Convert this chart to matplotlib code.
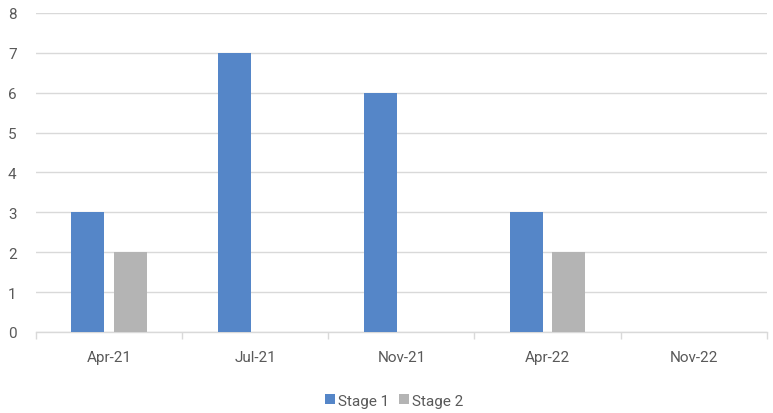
import matplotlib.pyplot as plt
import numpy as np

plt.rcParams['font.family'] = ['Roboto', 'DejaVu Sans']

# values per review date
dates = ['Apr-21', 'Jul-21', 'Nov-21', 'Apr-22', 'Nov-22']
stage1 = [3, 7, 6, 3, 0]
stage2 = [2, 0, 0, 2, 0]

blue = '#5586C8'
grey = '#B4B4B4'
txt = '#595959'
grid = '#D9D9D9'

fig = plt.figure(figsize=(7.73, 4.14), dpi=100)
ax = fig.add_axes([0.0466, 0.1957, 0.9454, 0.7705])

x = np.arange(len(dates))
w = 0.225
b1 = ax.bar(x - 0.145, stage1, w, color=blue, label='Stage 1', zorder=3)
b2 = ax.bar(x + 0.145, stage2, w, color=grey, label='Stage 2', zorder=3)

ax.set_xlim(-0.5, len(dates) - 0.5)
ax.set_ylim(0, 8)
ax.set_yticks(range(0, 9))
ax.yaxis.grid(True, color=grid, linewidth=1)
ax.set_axisbelow(True)

# category labels in the middle, tick marks on the boundaries
ax.set_xticks(x)
ax.set_xticklabels(dates)
ax.set_xticks(np.arange(-0.5, len(dates)), minor=True)
ax.tick_params(axis='x', which='major', length=0, pad=13, labelsize=11, labelcolor=txt)
ax.tick_params(axis='x', which='minor', length=5, color=grid, width=1)
ax.tick_params(axis='y', length=0, pad=14, labelsize=11, labelcolor=txt)

for s in ['top', 'right', 'left']:
    ax.spines[s].set_visible(False)
ax.spines['bottom'].set_color(grid)
ax.spines['bottom'].set_linewidth(1)

fig.legend(handles=[b1, b2], loc='center', bbox_to_anchor=(0.51, 0.03),
           ncol=2, frameon=False, fontsize=11, labelcolor=txt,
           handlelength=0.6, handleheight=0.6, handletextpad=0.2, columnspacing=0.7)

fig.savefig('out.png', dpi=100)
